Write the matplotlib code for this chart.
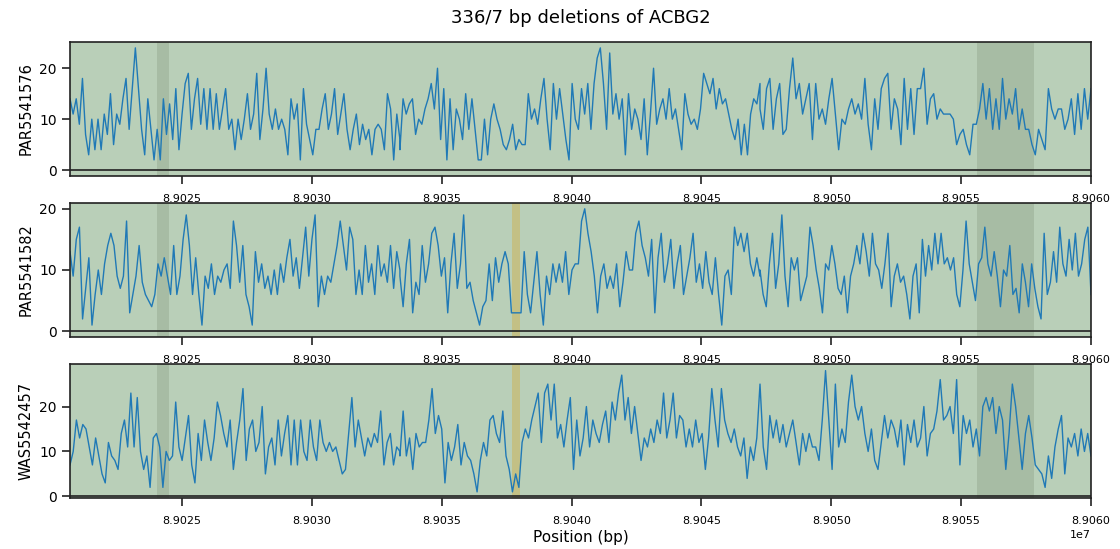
import numpy as np
import matplotlib
matplotlib.use("Agg")
import matplotlib.pyplot as plt
from matplotlib.ticker import MultipleLocator

# --- data ------------------------------------------------------------------
title = "336/7 bp deletions of ACBG2"
samples = ["PAR5541576", "PAR5541582", "WAS5542457"]

view = (89020680, 89060000)
# coverage is sampled evenly inside these three windows
seg_edges = [89020680, 89033386, 89047253, 89060000]

dark_regions = [(89024040, 89024490), (89055600, 89057808)]
deletion = (89037690, 89038026)
has_deletion = [False, True, True]

s1_a = [14, 11, 14, 9, 18, 7, 3, 10, 4, 10, 4, 11, 7, 15, 5, 11, 9, 14, 18, 8,
        16, 24, 16, 8, 3, 14, 8, 2, 8, 2, 14, 7, 13, 6, 16, 4, 11, 17, 19, 8,
        14, 18, 9, 16, 8, 16, 8, 15, 8, 12, 16, 8, 10, 4, 10, 6, 10, 15, 8, 11,
        19, 6, 12, 20, 11, 8, 12, 8, 10, 8, 3, 14, 10, 13, 2, 16, 9, 6, 3, 8,
        8, 12, 15, 8, 11, 16, 7, 11, 15, 8, 4, 8, 11, 5, 9, 6, 8, 3, 8, 9,
        8, 4, 15, 12, 2, 11, 6]
s1_b = [4, 14, 11, 13, 14, 7, 10, 9, 12, 14, 17, 12, 20, 6, 16, 2, 14, 4, 12, 10,
        6, 15, 8, 14, 8, 2, 2, 10, 3, 10, 13, 10, 8, 5, 4, 6, 9, 4, 6, 5,
        5, 15, 10, 12, 9, 14, 18, 10, 4, 17, 10, 16, 11, 6, 2, 17, 10, 8, 16, 11,
        17, 8, 17, 22, 24, 17, 8, 23, 11, 15, 10, 14, 3, 15, 8, 12, 10, 6, 14, 3,
        11, 20, 9, 12, 14, 10, 16, 10, 12, 8, 4, 15, 11, 9, 10, 8, 12, 19, 17, 15,
        18, 12, 16, 13, 14, 11, 8, 6, 10, 3, 9, 3, 11, 14, 13, 17]
s1_c = [12, 8, 16, 18, 8, 14, 17, 7, 8, 16, 22, 14, 17, 11, 14, 17, 6, 17, 10, 12,
        9, 14, 18, 11, 4, 10, 9, 12, 14, 11, 13, 10, 18, 9, 4, 14, 8, 16, 18, 19,
        8, 14, 12, 5, 18, 8, 16, 7, 16, 16, 20, 9, 14, 15, 10, 12, 11, 11, 11, 10,
        5, 7, 8, 5, 3, 9, 9, 12, 17, 10, 16, 8, 14, 8, 18, 10, 14, 11, 16, 8,
        12, 8, 8, 5, 3, 8, 6, 4, 16, 12, 10, 12, 12, 8, 10, 14, 7, 15, 8, 16,
        10, 16]

s2_a = [13, 9, 15, 17, 2, 7, 12, 1, 6, 10, 6, 11, 14, 16, 14, 9, 7, 9, 18, 3,
        6, 9, 14, 8, 6, 5, 4, 6, 11, 9, 12, 9, 6, 14, 6, 9, 15, 19, 14, 6,
        12, 6, 1, 9, 7, 11, 6, 9, 8, 10, 11, 7, 18, 14, 8, 14, 6, 4, 1, 13,
        8, 11, 7, 9, 6, 10, 6, 11, 8, 12, 15, 9, 12, 7, 12, 17, 9, 15, 19, 4,
        9, 6, 9, 8, 11, 14, 18, 14, 10, 17, 15, 6, 10, 6, 14, 8, 11, 6, 14, 9,
        11, 8, 14, 7, 13, 10]
s2_b = [9, 4, 11, 15, 3, 8, 6, 14, 8, 11, 16, 17, 14, 9, 12, 3, 11, 16, 7, 11,
        19, 7, 8, 5, 3, 1, 4, 5, 11, 5, 12, 8, 11, 13, 11, 3, 3, 3, 3, 13,
        6, 3, 8, 13, 6, 1, 9, 6, 11, 8, 11, 8, 13, 6, 10, 11, 11, 18, 20, 16,
        13, 9, 3, 9, 11, 7, 9, 7, 11, 4, 8, 13, 10, 10, 16, 18, 14, 12, 9, 15,
        3, 12, 16, 8, 11, 15, 7, 11, 14, 6, 9, 12, 16, 8, 11, 7, 13, 8, 6, 12,
        6, 1, 9, 10, 6, 17, 14, 16, 13, 16, 11, 9, 12, 9]
s2_c = [10, 6, 4, 11, 16, 7, 11, 19, 9, 4, 12, 10, 12, 5, 7, 9, 17, 14, 10, 7,
        3, 11, 10, 14, 11, 7, 6, 9, 3, 9, 11, 14, 11, 16, 13, 9, 16, 11, 10, 7,
        11, 16, 4, 9, 11, 8, 9, 6, 2, 9, 11, 3, 15, 9, 14, 10, 16, 11, 16, 11,
        12, 10, 12, 6, 4, 10, 18, 11, 8, 5, 11, 12, 17, 11, 9, 13, 9, 4, 10, 9,
        14, 6, 7, 3, 11, 8, 4, 11, 7, 4, 2, 16, 6, 8, 13, 8, 17, 11, 9, 15,
        10, 16, 9, 11, 15, 17, 6]

s3_a = [7, 10, 17, 13, 16, 15, 11, 7, 13, 9, 5, 3, 12, 9, 8, 6, 14, 17, 11, 23,
        11, 22, 10, 6, 9, 2, 13, 14, 11, 2, 10, 8, 9, 21, 11, 8, 13, 18, 7, 3,
        14, 8, 17, 12, 8, 13, 21, 18, 14, 11, 17, 6, 12, 17, 24, 8, 15, 17, 10, 12,
        20, 5, 11, 13, 7, 17, 9, 14, 18, 7, 17, 7, 17, 10, 8, 17, 11, 8, 17, 12,
        10, 12, 10, 11, 8, 5, 6, 14, 22, 11, 17, 13, 9, 13, 11, 14, 12, 19, 7, 12,
        14, 7, 11, 10]
s3_b = [9, 19, 9, 13, 6, 14, 11, 12, 12, 17, 24, 14, 18, 15, 3, 12, 8, 11, 16, 7,
        12, 9, 8, 5, 1, 8, 12, 9, 17, 18, 14, 12, 19, 9, 6, 1, 5, 2, 12, 15,
        13, 17, 20, 23, 12, 23, 25, 17, 25, 13, 16, 11, 17, 22, 6, 17, 9, 13, 20, 11,
        17, 14, 12, 16, 19, 12, 21, 17, 23, 27, 17, 22, 14, 20, 14, 8, 13, 11, 15, 12,
        17, 14, 23, 13, 17, 23, 13, 18, 17, 11, 15, 11, 17, 12, 14, 6, 13, 24, 17, 11,
        24, 17, 14, 12, 15, 11, 9, 13, 4, 11, 8, 13, 25]
s3_c = [25, 11, 6, 18, 13, 17, 12, 16, 11, 14, 17, 12, 7, 14, 10, 14, 11, 11, 8, 17,
        28, 17, 6, 25, 11, 15, 12, 21, 27, 20, 17, 20, 14, 10, 15, 8, 6, 12, 18, 13,
        17, 15, 11, 17, 7, 16, 12, 17, 11, 13, 20, 9, 14, 15, 19, 26, 17, 18, 20, 14,
        26, 7, 18, 14, 17, 11, 15, 9, 20, 22, 19, 22, 14, 20, 17, 6, 14, 25, 20, 13,
        6, 14, 18, 13, 7, 6, 5, 2, 9, 4, 11, 15, 18, 5, 13, 11, 14, 9, 15, 10,
        14, 9]

coverage = [[s1_a, s1_b, s1_c], [s2_a, s2_b, s2_c], [s3_a, s3_b, s3_c]]
ylims = [(-1.1, 25.1), (-0.9, 20.9), (-0.3, 29.4)]

# --- styling ----------------------------------------------------------------
BG = "#b9cfb8"
DARK = "#a7bca4"
YELLOW = "#c3c085"
LINE = "#2079b6"
EDGE = "#222222"


def positions(segments):
    """Evenly spread each window's samples between its edges."""
    xs = [np.linspace(seg_edges[i], seg_edges[i + 1], len(seg))
          for i, seg in enumerate(segments)]
    return np.concatenate(xs), np.concatenate(segments)


fig = plt.figure(figsize=(11.2, 5.49), dpi=100)

left, width, height = 0.0625, 0.9116, 0.243
bottoms = [0.680, 0.3867, 0.0934]

axes = []
for i, name in enumerate(samples):
    ax = fig.add_axes([left, bottoms[i], width, height])
    ax.set_facecolor(BG)
    for a, b in dark_regions:
        ax.axvspan(a, b, color=DARK, lw=0, zorder=0.5)
    if has_deletion[i]:
        ax.axvspan(deletion[0], deletion[1], color=YELLOW, lw=0, zorder=0.6)

    x, y = positions(coverage[i])
    ax.plot(x, y, color=LINE, lw=1.0, zorder=2)
    ax.axhline(0, color=EDGE, lw=1.2, zorder=3)

    ax.set_xlim(*view)
    ax.set_ylim(*ylims[i])
    ax.set_yticks([0, 10, 20])
    ax.xaxis.set_major_locator(MultipleLocator(5000))
    ax.ticklabel_format(axis="x", useOffset=False)
    ax.set_ylabel(name, fontsize=10.5)

    ax.tick_params(axis="y", labelsize=10, length=6, width=1.2, color=EDGE)
    ax.tick_params(axis="x", labelsize=8, length=6, width=1.2, color=EDGE, pad=7)
    for sp in ax.spines.values():
        sp.set_color(EDGE)
        sp.set_linewidth(1.2)
    if i < 2:
        ax.xaxis.get_offset_text().set_visible(False)
    else:
        ax.xaxis.get_offset_text().set_fontsize(8)
    axes.append(ax)

axes[-1].set_xlabel("Position (bp)", fontsize=11, labelpad=3)
fig.text(0.5183, 0.967, title, ha="center", va="center", fontsize=13)

fig.savefig("out.png", dpi=100)
